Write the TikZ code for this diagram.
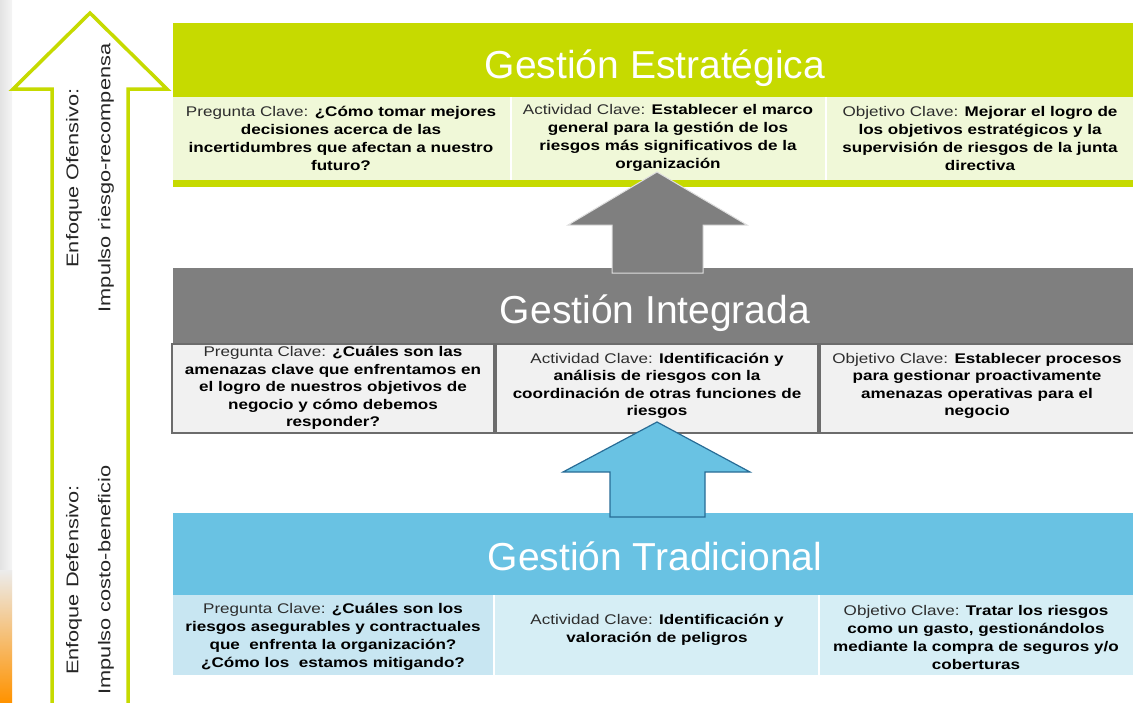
\documentclass[tikz,border=0pt]{standalone}
\usepackage{fontspec}
\setmainfont{Liberation Sans}
\newfontfamily\cellfont[FakeStretch=1.22]{Liberation Sans}
\newfontfamily\sidefont[FakeStretch=1.28]{Liberation Sans}
\usetikzlibrary{positioning}

\definecolor{lima}{RGB}{198,218,0}
\definecolor{limaclaro}{RGB}{240,248,216}
\definecolor{grisbar}{RGB}{127,127,127}
\definecolor{griscelda}{RGB}{241,241,241}
\definecolor{grislinea}{RGB}{108,108,108}
\definecolor{azul}{RGB}{105,194,227}
\definecolor{azulceldaA}{RGB}{200,230,242}
\definecolor{azulceldaB}{RGB}{214,238,245}
\definecolor{azullinea}{RGB}{40,108,150}
\definecolor{etiqueta}{RGB}{45,45,45}

\tikzset{
  celltext/.style={font=\cellfont\fontsize{14}{18}\selectfont\bfseries,align=center,text=black,inner sep=0pt},
  titletext/.style={font=\fontsize{39}{40}\selectfont,text=white,anchor=base},
  sidetext/.style={font=\sidefont\fontsize{17}{32}\selectfont,align=center,rotate=90,text=black!85}
}
\newcommand{\clave}[1]{{\mdseries\color{etiqueta}#1}}

\begin{document}
\begin{tikzpicture}[x=1pt,y=-1pt]
\useasboundingbox (0,0) rectangle (1133,702);

% franja izquierda
\shade[left color=gray!22,right color=gray!8] (0,0) rectangle (12,702);
\shade[top color=gray!15,bottom color=orange!85!yellow] (0,570) rectangle (12,702);

% flecha grande
\path[draw=lima,line width=3.5pt,fill=white,line join=miter] (52,706) -- (52,89) -- (13,89) -- (90,13) -- (167,89) -- (128,89) -- (128,706);

\node[sidetext] (ofensivo) at (90,178) {Enfoque Ofensivo:\\Impulso riesgo-recompensa};
\node[sidetext] (defensivo) at (90,580) {Enfoque Defensivo:\\Impulso costo-beneficio};

% Gestion Estrategica
\path[fill=lima] (173,23) rectangle (1133,97);
\path[fill=limaclaro] (173,97) rectangle (510,180);
\path[fill=limaclaro] (512,97) rectangle (825,180);
\path[fill=limaclaro] (827,97) rectangle (1133,180);
\path[fill=lima] (173,180) rectangle (1133,187);
\node[titletext] (estr) at (655,78) {Gestión Estratégica};

\node[celltext] (estr1) at (341,138) {\clave{Pregunta Clave:} ¿Cómo tomar mejores\\decisiones acerca de las\\incertidumbres que afectan a nuestro\\futuro?};
\node[celltext] (estr2) at (668,138) {\clave{Actividad Clave:} Establecer el marco\\general para la gestión de los\\riesgos más significativos de la\\organización};
\node[celltext] (estr3) at (980,138) {\clave{Objetivo Clave:} Mejorar el logro de\\los objetivos estratégicos y la\\supervisión de riesgos de la junta\\directiva};

% Gestion Integrada
\path[fill=grisbar] (173,268) rectangle (1133,343);
\path[draw=grislinea,line width=2pt,fill=griscelda] (172,344) rectangle (494,433);
\path[draw=grislinea,line width=2pt,fill=griscelda] (496,344) rectangle (818,433);
\path[draw=grislinea,line width=2pt,fill=griscelda] (820,344) rectangle (1137,433);
\node[titletext] (integ) at (655,323) {Gestión Integrada};

\node[celltext,font=\cellfont\fontsize{14}{17.5}\selectfont\bfseries] (integ1) at (333,388) {\clave{Pregunta Clave:} ¿Cuáles son las\\amenazas clave que enfrentamos en\\el logro de nuestros objetivos de\\negocio y cómo debemos\\responder?};
\node[celltext,font=\cellfont\fontsize{14}{17.5}\selectfont\bfseries] (integ2) at (657,386) {\clave{Actividad Clave:} Identificación y\\análisis de riesgos con la\\coordinación de otras funciones de\\riesgos};
\node[celltext,font=\cellfont\fontsize{14}{17.5}\selectfont\bfseries] (integ3) at (977,386) {\clave{Objetivo Clave:} Establecer procesos\\para gestionar proactivamente\\amenazas operativas para el\\negocio};

% Gestion Tradicional
\path[fill=azul] (173,513) rectangle (1133,595);
\path[fill=azulceldaA] (173,595) rectangle (493,675);
\path[fill=azulceldaB] (495,595) rectangle (818,675);
\path[fill=azulceldaB] (820,595) rectangle (1133,675);
\node[titletext] (trad) at (655,570) {Gestión Tradicional};

\node[celltext] (trad1) at (333,637) {\clave{Pregunta Clave:} ¿Cuáles son los\\riesgos asegurables y contractuales\\que\ \ enfrenta la organización?\\¿Cómo los\ \ estamos mitigando?};
\node[celltext] (trad2) at (657,630) {\clave{Actividad Clave:} Identificación y\\valoración de peligros};
\node[celltext] (trad3) at (976,637) {\clave{Objetivo Clave:} Tratar los riesgos\\como un gasto, gestionándolos\\mediante la compra de seguros y/o\\coberturas};

% flechas entre niveles
\path[draw=white!75!gray,line width=1pt,fill=grisbar] (657,172) -- (747,225) -- (703,225) -- (703,273) -- (612,273) -- (612,225) -- (568,225) -- cycle;
\path[draw=azullinea,line width=1.2pt,fill=azul] (657,422) -- (750,472) -- (705,472) -- (705,517) -- (610,517) -- (610,472) -- (563,472) -- cycle;
\end{tikzpicture}
\end{document}
